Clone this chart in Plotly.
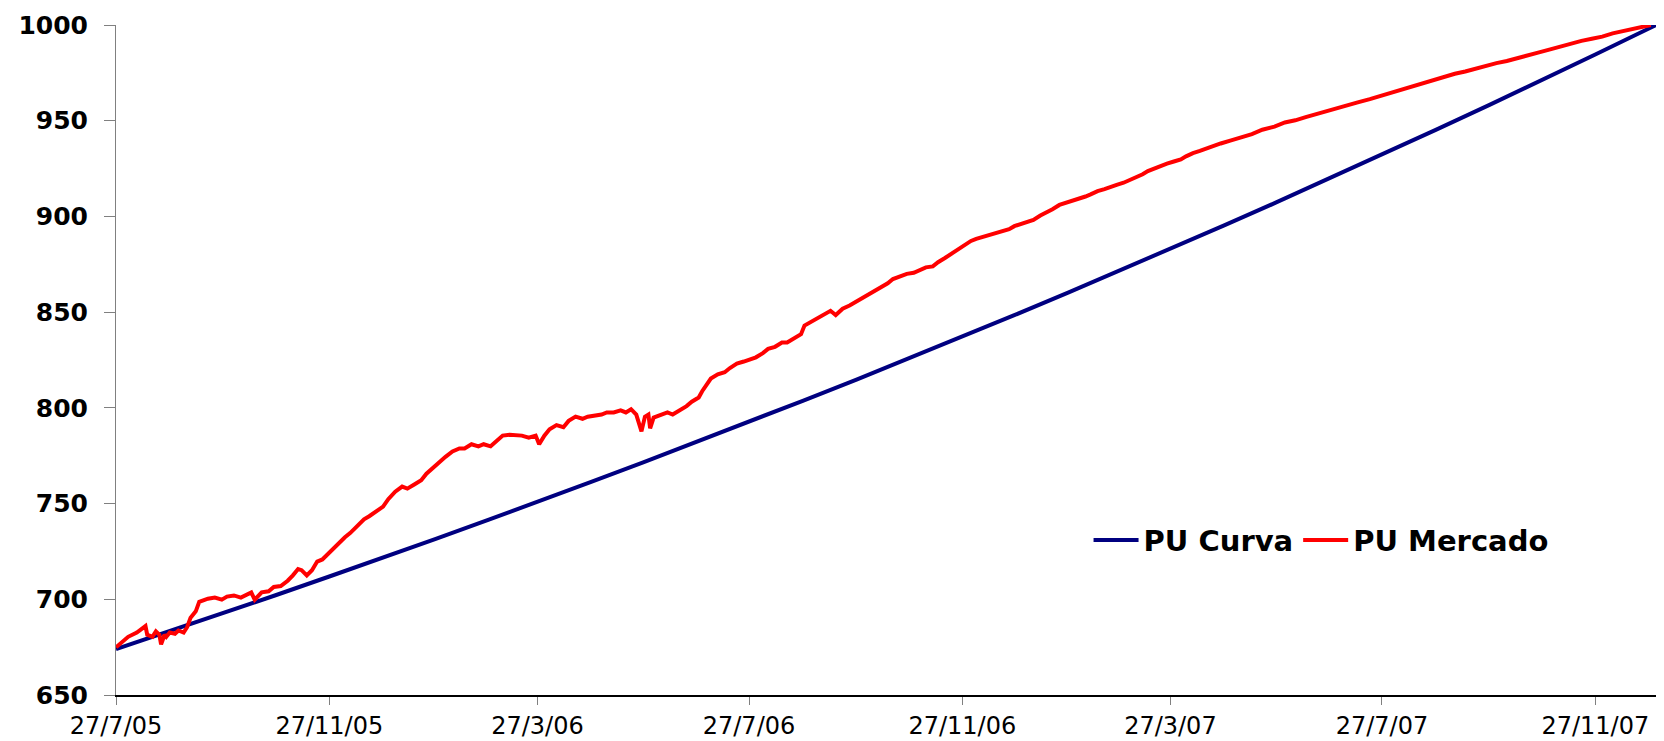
import pandas as pd
import plotly.graph_objects as go

START = "2005-07-27"

# PU Curva: days since 27/7/05 and values
curva_days = [0, 31, 62, 92, 123, 153, 184, 215, 243, 274, 304, 335, 365, 396, 427, 457, 488, 518,
              549, 580, 608, 639, 669, 700, 730, 761, 792, 822, 853, 883, 888]
curva_vals = [674.0, 683.3, 692.8, 702.1, 711.9, 721.4, 731.4, 741.6, 750.8, 761.3, 771.5, 782.2, 792.7,
              803.7, 814.8, 825.7, 837.2, 848.4, 860.2, 872.1, 883.0, 895.3, 907.3, 919.9, 932.2, 945.2,
              958.3, 971.1, 984.6, 997.8, 1000.0]

# PU Mercado: days since 27/7/05 and values
mercado_days = [0, 4, 7, 12, 15, 17, 18, 21, 23, 25, 26, 28, 29, 31, 34, 36, 39, 41, 43, 46, 48, 53, 57, 61,
                64, 68, 72, 75, 78, 80, 84, 88, 91, 95, 99, 102, 105, 107, 110, 113, 116, 119, 122, 125,
                128, 132, 135, 139, 143, 146, 150, 154, 157, 161, 165, 168, 172, 176, 179, 183, 187, 190,
                194, 198, 201, 205, 209, 212, 216, 220, 223, 227, 231, 234, 238, 242, 244, 247, 250, 254,
                258, 261, 265, 269, 272, 276, 280, 283, 287, 291, 294, 297, 300, 303, 305, 307, 308, 310,
                314, 318, 321, 325, 329, 332, 336, 338, 341, 343, 347, 351, 354, 358, 362, 365, 369, 373,
                376, 380, 384, 387, 391, 395, 397, 401, 404, 408, 412, 415, 419, 423, 426, 430, 434, 437,
                441, 445, 448, 452, 456, 460, 463, 467, 471, 474, 478, 482, 485, 489, 493, 496, 500, 504,
                507, 511, 515, 518, 522, 526, 529, 533, 537, 540, 544, 548, 551, 555, 559, 562, 566, 570,
                573, 577, 581, 584, 588, 592, 595, 599, 603, 606, 610, 614, 617, 621, 625, 631, 637, 643,
                649, 655, 661, 668, 674, 680, 686, 692, 698, 704, 710, 716, 723, 729, 735, 741, 747, 753,
                759, 765, 772, 778, 784, 790, 796, 802, 808, 814, 820, 827, 833, 839, 845, 851, 857, 863,
                869, 876, 882, 885]
mercado_vals = [674.9, 678.2, 680.4, 682.6, 684.8, 686.0, 681.5, 680.4, 683.2, 681.5, 676.5, 681.5, 680.4, 682.6,
                682.0, 683.7, 682.6, 685.4, 690.4, 693.7, 698.7, 700.3, 700.9, 699.8, 701.4, 702.0, 700.9,
                702.5, 703.6, 699.8, 703.6, 704.2, 706.4, 706.9, 709.7, 712.5, 715.8, 715.2, 712.5, 715.2,
                719.7, 720.8, 723.5, 725.7, 729.1, 732.4, 734.6, 738.5, 741.8, 743.4, 745.7, 748.4, 752.3,
                756.2, 758.9, 757.8, 760.0, 762.2, 765.6, 768.9, 772.2, 774.4, 777.2, 778.8, 778.8, 781.0,
                779.9, 781.0, 779.9, 783.2, 785.5, 786.0, 785.5, 785.5, 784.4, 785.5, 781.0, 785.5, 788.8,
                791.0, 789.9, 793.2, 795.4, 794.3, 795.4, 796.0, 796.5, 797.6, 797.6, 798.7, 797.6, 799.3,
                796.5, 787.7, 795.4, 796.5, 789.3, 794.9, 796.0, 797.6, 796.5, 798.7, 800.9, 803.2, 805.4,
                808.7, 813.1, 815.3, 817.5, 818.6, 820.8, 823.1, 824.2, 825.3, 826.4, 828.6, 830.8, 831.9,
                834.1, 834.1, 836.3, 838.5, 843.0, 845.2, 846.8, 848.5, 850.7, 848.5, 851.8, 853.5, 855.1,
                857.3, 859.5, 860.7, 862.9, 865.1, 867.3, 868.9, 870.0, 870.6, 871.7, 873.4, 873.9, 876.1,
                878.3, 880.6, 882.8, 885.0, 887.2, 888.3, 889.4, 890.5, 891.6, 892.7, 893.3, 894.9, 896.0,
                897.1, 898.2, 900.5, 902.1, 903.8, 906.0, 907.1, 907.7, 908.8, 910.4, 911.5, 913.2, 914.3,
                915.4, 916.5, 917.6, 918.7, 920.4, 922.0, 923.7, 925.3, 926.5, 927.6, 928.7, 929.8, 931.4,
                933.1, 934.2, 936.4, 938.1, 939.7, 941.4, 943.0, 945.3, 946.9, 949.1, 950.2, 951.9, 953.5,
                955.2, 956.9, 958.5, 959.6, 961.3, 962.9, 964.6, 966.3, 967.9, 969.6, 971.2, 972.9, 974.5,
                975.7, 977.3, 978.4, 980.1, 981.2, 982.8, 984.5, 985.6, 987.3, 988.9, 990.0, 991.7, 992.8,
                993.9, 995.6, 996.7, 998.3, 999.4, 1000.0]

tick_dates = ["2005-07-27", "2005-11-27", "2006-03-27", "2006-07-27",
              "2006-11-27", "2007-03-27", "2007-07-27", "2007-11-27"]
tick_labels = ["27/7/05", "27/11/05", "27/3/06", "27/7/06",
               "27/11/06", "27/3/07", "27/7/07", "27/11/07"]
y_ticks = [650, 700, 750, 800, 850, 900, 950, 1000]

start = pd.Timestamp(START)
curva_x = [start + pd.Timedelta(days=d) for d in curva_days]
mercado_x = [start + pd.Timedelta(days=d) for d in mercado_days]

fig = go.Figure()
fig.add_trace(go.Scatter(x=curva_x, y=curva_vals, mode="lines", name="PU Curva",
                         line=dict(color="#000080", width=4)))
fig.add_trace(go.Scatter(x=mercado_x, y=mercado_vals, mode="lines", name="PU Mercado",
                         line=dict(color="#FF0000", width=4)))

fig.update_layout(
    width=1664, height=741,
    margin=dict(l=116, r=8, t=25, b=46, autoexpand=False),
    paper_bgcolor="white", plot_bgcolor="white",
    showlegend=True,
    legend=dict(orientation="h", x=0.7825, xanchor="center", y=0.231, yanchor="middle",
                font=dict(family="DejaVu Sans", size=29, color="black", weight="bold"),
                bgcolor="rgba(0,0,0,0)", itemwidth=45),
)
fig.update_xaxes(
    type="date", range=[START, "2008-01-01"],
    tickmode="array", tickvals=tick_dates, ticktext=tick_labels,
    ticks="outside", ticklen=8, tickcolor="#808080", tickwidth=1,
    showline=True, linecolor="black", linewidth=1.5,
    showgrid=False, zeroline=False,
    tickfont=dict(family="DejaVu Sans", size=24, color="black"),
    ticklabelstandoff=0,
)
fig.update_yaxes(
    range=[650, 1000], tickmode="array", tickvals=y_ticks,
    ticks="outside", ticklen=11, tickcolor="#808080", tickwidth=1,
    showline=True, linecolor="#808080", linewidth=1,
    showgrid=False, zeroline=False,
    tickfont=dict(family="DejaVu Sans", size=25, color="black", weight="bold"),
    ticklabelstandoff=11,
)

fig.write_html("out.html", config={"displayModeBar": False},
               post_script="document.body.style.margin='0';")
